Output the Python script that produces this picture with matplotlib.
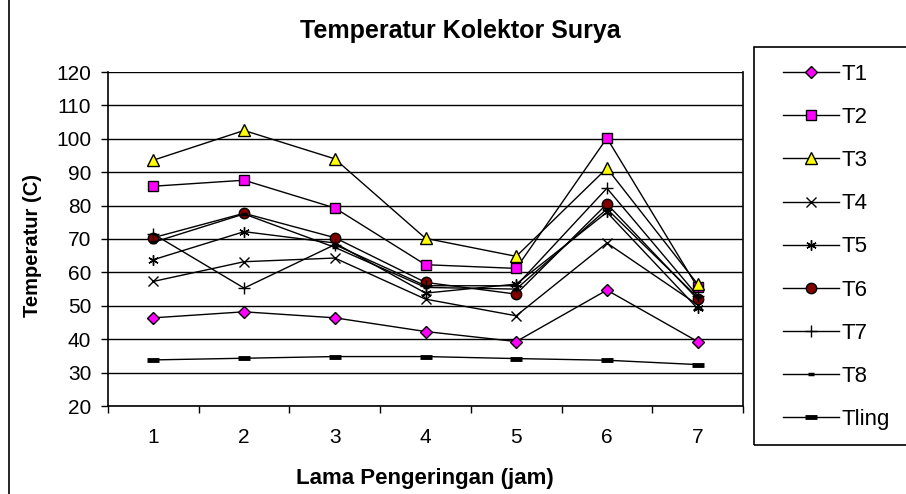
import matplotlib
matplotlib.use("Agg")
import matplotlib.pyplot as plt
from matplotlib.patches import Rectangle
from matplotlib.lines import Line2D

plt.rcParams["font.family"] = ["Liberation Sans", "DejaVu Sans"]

# --- data ---
jam = [1, 2, 3, 4, 5, 6, 7]
T1 = [46.4, 48.2, 46.4, 42.3, 39.3, 54.7, 39.3]
T2 = [85.8, 87.6, 79.3, 62.3, 61.2, 100.2, 55.5]
T3 = [93.6, 102.5, 94.0, 70.2, 64.8, 91.2, 56.5]
T4 = [57.3, 63.2, 64.3, 52.0, 47.0, 68.8, 50.3]
T5 = [63.8, 72.2, 68.8, 53.8, 56.5, 78.0, 49.2]
T6 = [70.4, 77.7, 70.4, 57.0, 53.5, 80.5, 52.0]
T7 = [71.5, 55.3, 68.3, 56.0, 56.0, 85.2, 53.0]
T8 = [69.0, 77.5, 67.5, 55.5, 55.0, 79.0, 52.5]
Tling = [33.8, 34.3, 34.8, 34.8, 34.2, 33.7, 32.4]

names = ["T1", "T2", "T3", "T4", "T5", "T6", "T7", "T8", "Tling"]
series = [T1, T2, T3, T4, T5, T6, T7, T8, Tling]
yticks = [20, 30, 40, 50, 60, 70, 80, 90, 100, 110, 120]

styles = [
    dict(marker="D", ms=6.5, mfc="#FF00FF", mec="black", mew=1.0),
    dict(marker="s", ms=7, mfc="#FF00FF", mec="black", mew=1.0),
    dict(marker="^", ms=9, mfc="#FFFF00", mec="black", mew=1.0),
    dict(marker="x", ms=6.5, mec="black", mew=1.0),
    dict(marker=(6, 2, 0), ms=7.5, mec="black", mew=1.0),
    dict(marker="o", ms=7.5, mfc="#800000", mec="black", mew=1.0),
    dict(marker="+", ms=8, mec="black", mew=1.0),
    dict(marker="_", ms=5, mec="black", mew=2.5),
    dict(marker="_", ms=8, mec="black", mew=3.5),
]

fig = plt.figure(figsize=(9.06, 4.94), dpi=100)
W, H = 906.0, 494.0

# outer chart frame (runs off the right and bottom edges)
fig.patches.append(Rectangle((9 / W, -0.2), 1.2, 1.2 + (1 - 11 / H), transform=fig.transFigure,
                             fill=False, edgecolor="black", lw=1.2))

ax = fig.add_axes([108 / W, 1 - 406 / H, (743 - 108) / W, (406 - 72) / H])
for ys, st in zip(series, styles):
    ax.plot(jam, ys, color="black", lw=1.0, zorder=3, clip_on=False, **st)

ax.set_xlim(0.5, 7.5)
ax.set_ylim(20, 120)
ax.set_yticks(yticks)
ax.yaxis.grid(True, color="black", lw=1.0)
ax.set_axisbelow(True)
ax.set_xticks(jam)
ax.set_xticks([0.5 + i for i in range(8)], minor=True)
ax.tick_params(axis="x", which="major", length=0, pad=16, labelsize=15)
ax.tick_params(axis="x", which="minor", length=5, width=1.0, direction="out")
ax.tick_params(axis="y", length=5, width=1.0, direction="out", pad=7, labelsize=15)
for side in ["left", "bottom", "right"]:
    ax.spines[side].set_linewidth(1.2)
ax.spines["top"].set_visible(False)

fig.text(460 / W, 1 - 31 / H, "Temperatur Kolektor Surya", ha="center", va="center",
         fontsize=18, fontweight="bold")
fig.text(32 / W, 1 - 245 / H, "Temperatur (C)", ha="center", va="center", rotation=90,
         fontsize=14.5, fontweight="bold")
fig.text(425 / W, 1 - 478 / H, "Lama Pengeringan (jam)", ha="center", va="center",
         fontsize=16, fontweight="bold")

# legend box (also runs off the right edge)
fig.patches.append(Rectangle((754 / W, 1 - 445 / H), 0.5, (445 - 47) / H, transform=fig.transFigure,
                             fill=False, edgecolor="black", lw=1.2))
handles = [Line2D([], [], color="black", lw=1.0, **st) for st in styles]
leg = fig.legend(handles, names, loc="upper left", bbox_to_anchor=(783 / W, 1 - 64 / H),
                 frameon=False, fontsize=16, handlelength=2.5, handletextpad=0.15,
                 labelspacing=0.995, borderaxespad=0, borderpad=0)

fig.savefig("out.png", dpi=100, facecolor="white")
